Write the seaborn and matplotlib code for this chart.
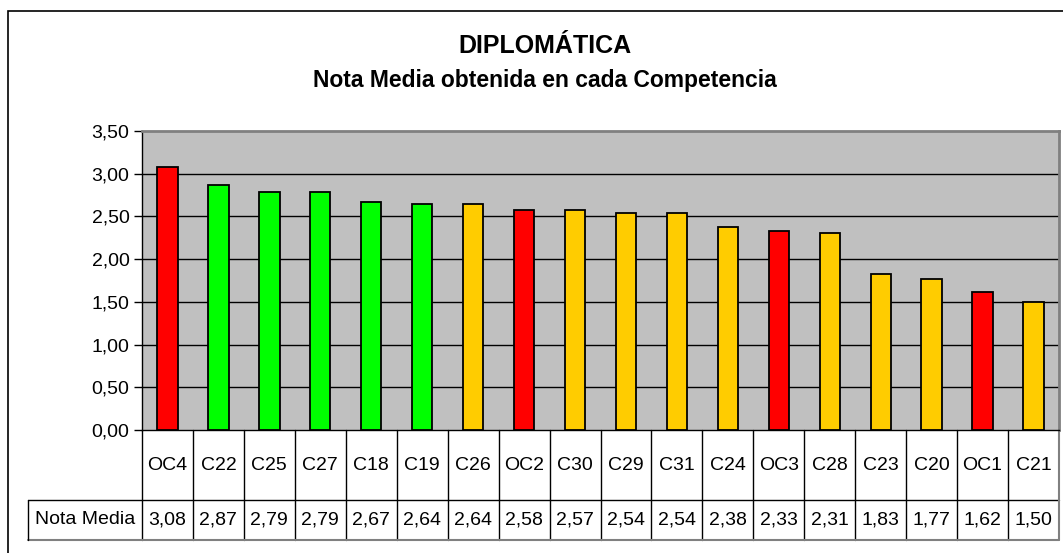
import matplotlib
matplotlib.use("Agg")
import matplotlib.pyplot as plt
import matplotlib.patches as mpatches
import seaborn as sns
import pandas as pd

categories = ["OC4", "C22", "C25", "C27", "C18", "C19", "C26", "OC2", "C30",
              "C29", "C31", "C24", "OC3", "C28", "C23", "C20", "OC1", "C21"]
values = [3.08, 2.87, 2.79, 2.79, 2.67, 2.64, 2.64, 2.58, 2.57,
          2.54, 2.54, 2.38, 2.33, 2.31, 1.83, 1.77, 1.62, 1.50]
groups = ["rojo", "verde", "verde", "verde", "verde", "verde", "amarillo", "rojo", "amarillo",
          "amarillo", "amarillo", "amarillo", "rojo", "amarillo", "amarillo", "amarillo", "rojo", "amarillo"]
title_lines = ["DIPLOMÁTICA", "Nota Media obtenida en cada Competencia"]
row_label = "Nota Media"
yticks = [0.0, 0.5, 1.0, 1.5, 2.0, 2.5, 3.0, 3.5]

palette = {"rojo": "#FF0000", "verde": "#00FF00", "amarillo": "#FFCC00"}

df = pd.DataFrame({"cat": categories, "val": values, "grp": groups})

sns.set_style("white")
plt.rcParams["font.family"] = ["Liberation Sans", "DejaVu Sans"]
plt.rcParams["text.color"] = "black"
plt.rcParams["ytick.color"] = "black"
plt.rcParams["ytick.labelcolor"] = "black"

W, H = 1063, 553
fig = plt.figure(figsize=(W / 100, H / 100), dpi=100)
fig.patch.set_facecolor("white")

# outer chart border
fig.patches.append(mpatches.Rectangle((8 / W, -0.1), 1.2, 1.1 - 11 / H,
                                      transform=fig.transFigure, fill=False,
                                      edgecolor="black", linewidth=1.2))

x0, x1, ytop, ybot = 142, 1059, 131, 430
ax = fig.add_axes([x0 / W, (H - ybot) / H, (x1 - x0) / W, (ybot - ytop) / H])
ax.set_facecolor("#C0C0C0")

sns.barplot(data=df, x="cat", y="val", hue="grp", palette=palette, dodge=False,
            saturation=1, width=0.4, edgecolor="black", linewidth=1.3, legend=False,
            ax=ax, zorder=3)

ax.set_ylim(0, 3.5)
ax.set_xlim(-0.5, len(categories) - 0.5)
ax.set_yticks(yticks)
ax.set_yticklabels([f"{v:.2f}".replace(".", ",") for v in yticks], fontsize=14)
ax.tick_params(axis="y", direction="out", length=6, width=1, color="black", pad=3, left=True)
ax.set_xticks([])
ax.set_xlabel("")
ax.set_ylabel("")
ax.grid(False)
for v in yticks[1:-1]:
    ax.axhline(v, color="black", linewidth=1, zorder=1)

for s in ["top", "right"]:
    ax.spines[s].set_color("#808080")
    ax.spines[s].set_linewidth(2)
for s in ["left", "bottom"]:
    ax.spines[s].set_color("black")
    ax.spines[s].set_linewidth(1)

# data table below the axes
n = len(categories)
tr = ax.get_xaxis_transform()
slot = (x1 - x0) / n
row1_bot = -(500 - ybot) / (ybot - ytop)
row2_bot = -(540 - ybot) / (ybot - ytop)
left_edge = -0.5 - (x0 - 28) / slot
lk = dict(color="black", linewidth=1, clip_on=False, transform=tr)
for i in range(n):
    xb = i - 0.5
    ax.plot([xb, xb], [0, row2_bot], **lk)
ax.plot([left_edge, n - 0.5], [row1_bot, row1_bot], **lk)
ax.plot([left_edge, n - 0.5], [row2_bot, row2_bot], color="#808080", linewidth=1.5,
        clip_on=False, transform=tr)
ax.plot([left_edge, left_edge], [row1_bot, row2_bot], **lk)
ax.plot([n - 0.5, n - 0.5], [0, row2_bot], color="#808080", linewidth=1.5,
        clip_on=False, transform=tr)

for i, (c, v) in enumerate(zip(categories, values)):
    ax.text(i, row1_bot / 2, c, transform=tr, ha="center", va="center", fontsize=14)
    ax.text(i, (row1_bot + row2_bot) / 2, f"{v:.2f}".replace(".", ","), transform=tr,
            ha="center", va="center", fontsize=14)
ax.text((left_edge - 0.5) / 2, (row1_bot + row2_bot) / 2, row_label, transform=tr,
        ha="center", va="center", fontsize=14)

fig.text(0.513, 1 - 46 / H, title_lines[0], ha="center", va="center",
         fontsize=18, fontweight="bold")
fig.text(0.513, 1 - 80 / H, title_lines[1], ha="center", va="center",
         fontsize=16.5, fontweight="bold")

fig.savefig("out.png", dpi=100)
